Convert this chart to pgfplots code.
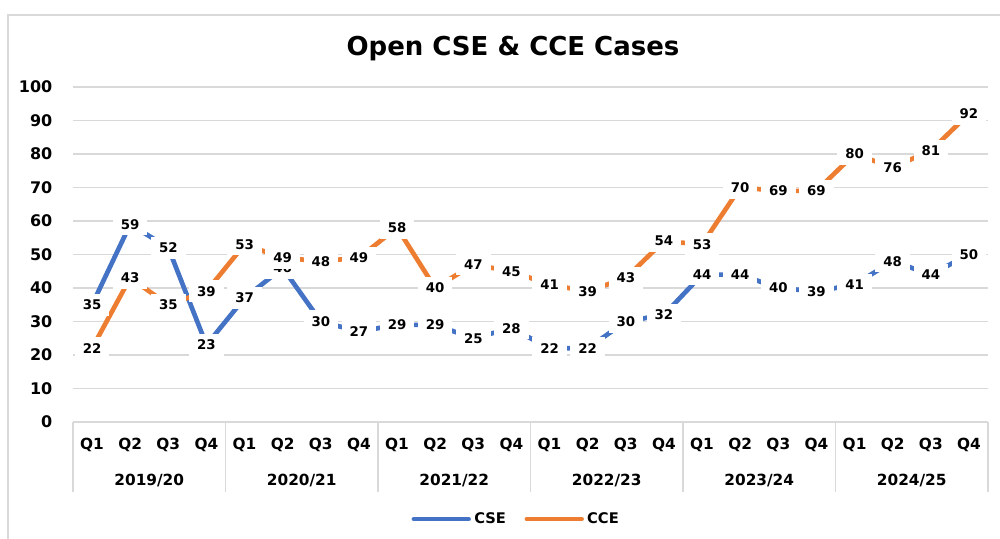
\documentclass[border=0pt]{standalone}
\usepackage{fontspec}
\setmainfont{DejaVu Sans}
\usepackage{pgfplots}
\usepackage{pgfplotstable}
\pgfplotsset{compat=1.18}
\definecolor{cse}{HTML}{4472C4}
\definecolor{cce}{HTML}{ED7D31}
\definecolor{gridc}{HTML}{D9D9D9}

\pgfplotstableread{
x cse cce
0 35 22
1 59 43
2 52 35
3 23 39
4 37 53
5 46 49
6 30 48
7 27 49
8 29 58
9 29 40
10 25 47
11 28 45
12 22 41
13 22 39
14 30 43
15 32 54
16 44 53
17 44 70
18 40 69
19 39 69
20 41 80
21 48 76
22 44 81
23 50 92
}\datatable

\begin{document}
\begin{tikzpicture}
\path[use as bounding box] (-54.75pt,-87.75pt) rectangle (695.25pt,316.5pt);
\draw[gridc, line width=1.5pt] (-48.75pt,-100pt) -- (-48.75pt,305.25pt) -- (720pt,305.25pt);
\node[anchor=base, font=\fontsize{19.5}{21}\selectfont\bfseries] at (330pt,274.5pt) {Open CSE \& CCE Cases};
\begin{axis}[
  at={(0pt,0pt)}, anchor=south west, scale only axis,
  width=686.25pt, height=251.25pt,
  xmin=-0.5, xmax=23.5, ymin=0, ymax=100,
  axis line style={draw=none},
  ytick={0,10,...,100}, xtick={0,...,23},
  xticklabels={Q1,Q2,Q3,Q4,Q1,Q2,Q3,Q4,Q1,Q2,Q3,Q4,Q1,Q2,Q3,Q4,Q1,Q2,Q3,Q4,Q1,Q2,Q3,Q4},
  major tick length=0pt,
  tick style={draw=none},
  ymajorgrids, grid style={gridc, line width=1.2pt},
  /pgf/number format/assume math mode=true,
  xticklabel style={anchor=center, yshift=-17.25pt, font=\fontsize{11.5}{13}\selectfont\bfseries},
  yticklabel style={anchor=east, xshift=-12pt, font=\fontsize{12}{14}\selectfont\bfseries},
  clip=false,
  legend style={at={(axis description cs:0.484,-0.29)}, anchor=center, draw=none, fill=none,
    legend columns=2, font=\fontsize{11}{13}\selectfont\bfseries,
    nodes={inner xsep=1pt},
    /tikz/every odd column/.append style={column sep=1.5pt},
    /tikz/every even column/.append style={column sep=13pt}},
  legend image code/.code={\draw[#1, line width=3.5pt, line cap=round] (0pt,0pt) -- (41pt,0pt);},
]
\addplot[cse, line width=3.5pt, line join=round, mark=none] table[x=x,y=cse]{\datatable};
\addlegendentry{CSE}
\addplot[cce, line width=3.5pt, line join=round, mark=none] table[x=x,y=cce]{\datatable};
\addlegendentry{CCE}
\addplot[draw=none, mark=none, forget plot, nodes near coords, nodes near coords align={center},
  every node near coord/.append style={anchor=center, fill=white, inner xsep=6pt, inner ysep=4.5pt, text=black, font=\fontsize{10}{11}\selectfont\bfseries}]
  table[x=x,y=cse]{\datatable};
\addplot[draw=none, mark=none, forget plot, nodes near coords, nodes near coords align={center},
  every node near coord/.append style={anchor=center, fill=white, inner xsep=6pt, inner ysep=4.5pt, text=black, font=\fontsize{10}{11}\selectfont\bfseries}]
  table[x=x,y=cce]{\datatable};
\draw[gridc, line width=1.2pt] (axis cs:-0.5,0) -- ([yshift=-52.5pt]axis cs:-0.5,0);
\draw[gridc, line width=1.2pt] (axis cs:3.5,0) -- ([yshift=-52.5pt]axis cs:3.5,0);
\draw[gridc, line width=1.2pt] (axis cs:7.5,0) -- ([yshift=-52.5pt]axis cs:7.5,0);
\draw[gridc, line width=1.2pt] (axis cs:11.5,0) -- ([yshift=-52.5pt]axis cs:11.5,0);
\draw[gridc, line width=1.2pt] (axis cs:15.5,0) -- ([yshift=-52.5pt]axis cs:15.5,0);
\draw[gridc, line width=1.2pt] (axis cs:19.5,0) -- ([yshift=-52.5pt]axis cs:19.5,0);
\draw[gridc, line width=1.2pt] (axis cs:23.5,0) -- ([yshift=-52.5pt]axis cs:23.5,0);
\node[font=\fontsize{11.5}{13}\selectfont\bfseries] at ([yshift=-44.25pt]axis cs:1.5,0) {2019/20};
\node[font=\fontsize{11.5}{13}\selectfont\bfseries] at ([yshift=-44.25pt]axis cs:5.5,0) {2020/21};
\node[font=\fontsize{11.5}{13}\selectfont\bfseries] at ([yshift=-44.25pt]axis cs:9.5,0) {2021/22};
\node[font=\fontsize{11.5}{13}\selectfont\bfseries] at ([yshift=-44.25pt]axis cs:13.5,0) {2022/23};
\node[font=\fontsize{11.5}{13}\selectfont\bfseries] at ([yshift=-44.25pt]axis cs:17.5,0) {2023/24};
\node[font=\fontsize{11.5}{13}\selectfont\bfseries] at ([yshift=-44.25pt]axis cs:21.5,0) {2024/25};
\end{axis}
\end{tikzpicture}
\end{document}
